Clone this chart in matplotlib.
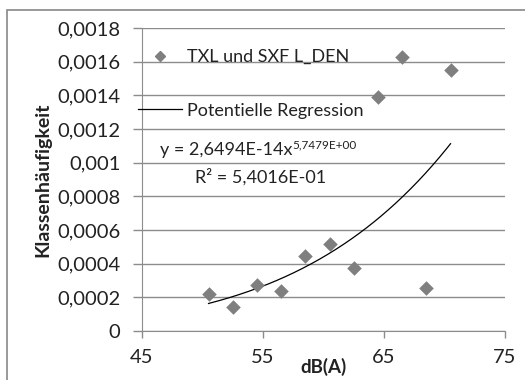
import matplotlib
matplotlib.use('Agg')
import matplotlib.pyplot as plt
import numpy as np
from matplotlib.patches import Rectangle
from matplotlib.lines import Line2D

plt.rcParams['font.family'] = ['Lato', 'DejaVu Sans']

# measured data (dB(A) class centres, class frequency)
db_values = [50.5, 52.5, 54.5, 56.5, 58.5, 60.5, 62.5, 64.5, 66.5, 68.5, 70.5]
frequencies = [0.000222, 0.000144, 0.000273, 0.000238, 0.000447, 0.000517,
               0.000376, 0.001389, 0.00163, 0.000257, 0.00155]

# power regression y = a * x^b (Excel trendline)
coef_a = 2.6494e-14
coef_b = 5.7479

x_ticks = [45, 55, 65, 75]
y_ticks = [0, 0.0002, 0.0004, 0.0006, 0.0008, 0.001, 0.0012, 0.0014, 0.0016, 0.0018]
y_tick_labels = ['0', '0,0002', '0,0004', '0,0006', '0,0008', '0,001',
                 '0,0012', '0,0014', '0,0016', '0,0018']

W, H = 525, 380
fig = plt.figure(figsize=(W / 100, H / 100), dpi=100)
ax = fig.add_axes([142 / W, 1 - 331 / H, (505 - 142) / W, (331 - 28) / H])

# outer chart frame (only left/top visible in the crop)
fig.patches.append(Rectangle((7 / W, -0.1), 1.2, 1 - 10 / H + 0.1, transform=fig.transFigure,
                             fill=False, edgecolor='#888888', linewidth=1.2))

grid_col = '#8c8c8c'
text_col = '#222222'
for yv in y_ticks:
    ax.axhline(yv, color=grid_col, linewidth=1.0, zorder=1)

x_fit = np.linspace(min(db_values), max(db_values), 200)
ax.plot(x_fit, coef_a * x_fit ** coef_b, color='black', linewidth=0.9, zorder=3)
ax.scatter(db_values, frequencies, marker='D', s=55, color='#7f7f7f', zorder=4, linewidths=0)

ax.set_xlim(45, 75)
ax.set_ylim(0, 0.0018)
ax.set_xticks(x_ticks)
ax.set_yticks(y_ticks)
ax.set_yticklabels(y_tick_labels)
for s in ['top', 'right']:
    ax.spines[s].set_visible(False)
for s in ['left', 'bottom']:
    ax.spines[s].set_color(grid_col)
ax.tick_params(axis='both', colors=grid_col, labelcolor=text_col, labelsize=14.5,
               width=1.0, direction='out')
ax.tick_params(axis='y', length=6.5, pad=9)
ax.tick_params(axis='x', length=5, pad=8)

ax.set_ylabel('Klassenhäufigkeit', fontsize=14, fontweight='bold', labelpad=4, color=text_col)
ax.set_xlabel('dB(A)', fontsize=13.5, fontweight='bold', labelpad=-6, color=text_col)

handles = [Line2D([], [], marker='D', color='#7f7f7f', linestyle='none', markersize=5),
           Line2D([], [], color='black', linewidth=0.9)]
leg = ax.legend(handles, ['TXL und SXF L_DEN', 'Potentielle Regression'],
                loc='upper left', bbox_to_anchor=(-0.03, 0.955), frameon=False,
                fontsize=13, labelspacing=2.1, handlelength=2.4, handletextpad=0.3,
                borderaxespad=0)
for t in leg.get_texts():
    t.set_color(text_col)

eq = fig.text(160 / W, 1 - 150 / H, 'y = 2,6494E-14x', fontsize=13,
              color=text_col, va='center', ha='left')
fig.canvas.draw()
bb = eq.get_window_extent()
fig.text(bb.x1 / W, 1 - 145 / H, '5,7479E+00', fontsize=8.5,
         color=text_col, va='center', ha='left')
fig.text(195 / W, 1 - 177 / H, 'R² = 5,4016E-01', fontsize=13,
         color=text_col, va='center', ha='left')

fig.savefig('out.png', dpi=100)
